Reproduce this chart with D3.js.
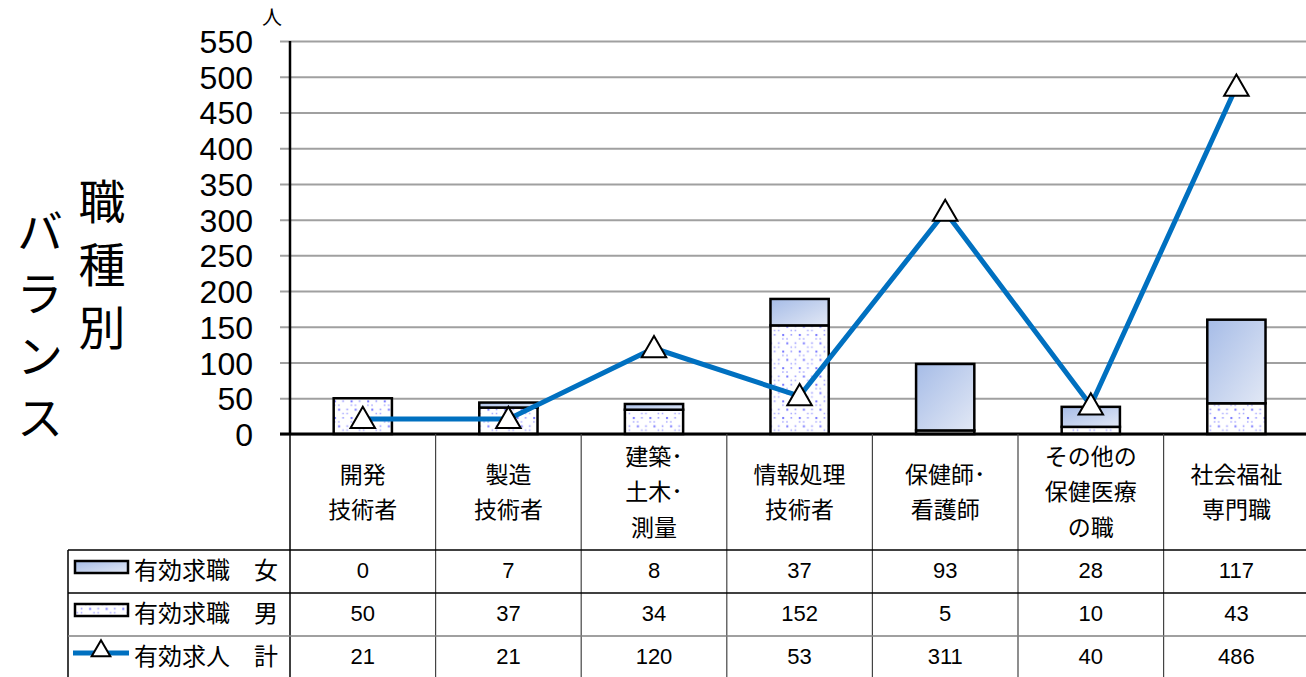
<html>
<head>
<meta charset="utf-8">
<style>
  body { margin: 0; background: #fff; }
  svg { display: block; }
  text { font-family: "Noto Sans CJK JP", "Noto Sans", sans-serif; fill: #000; }
  .num { font-family: "Liberation Sans", Arial, sans-serif; }
  .vtitle { writing-mode: vertical-rl; text-orientation: upright; }
</style>
<script src="https://d3js.org/d3.v7.min.js"></script>
</head>
<body>
<svg id="chart"></svg>
<script>
// DATA
let categories = [
  ["開発", "技術者"],
  ["製造", "技術者"],
  ["建築･", "土木･", "測量"],
  ["情報処理", "技術者"],
  ["保健師･", "看護師"],
  ["その他の", "保健医療", "の職"],
  ["社会福祉", "専門職"]
]
let female = [0, 7, 8, 37, 93, 28, 117]   // 有効求職 女
let male = [50, 37, 34, 152, 5, 10, 43]   // 有効求職 男
let total = [21, 21, 120, 53, 311, 40, 486] // 有効求人 計
let yTicks = [0, 50, 100, 150, 200, 250, 300, 350, 400, 450, 500, 550]
let seriesNames = ["有効求職　女", "有効求職　男", "有効求人　計"]

let width = 1306, height = 677
let svg = d3.select("#chart").attr("width", width).attr("height", height)

// defs: gradient + dot pattern
let defs = svg.append("defs")
let grad = defs.append("linearGradient").attr("id", "gradF")
  .attr("x1", 0).attr("y1", 0).attr("x2", 1).attr("y2", 1)
grad.append("stop").attr("offset", "0%").attr("stop-color", "#a6bce7")
grad.append("stop").attr("offset", "100%").attr("stop-color", "#e2e8f5")

let p = 16.6
let pat = defs.append("pattern").attr("id", "dotsM")
  .attr("patternUnits", "userSpaceOnUse").attr("width", p).attr("height", p)
pat.append("rect").attr("width", p).attr("height", p).attr("fill", "#fff")
let dots = [[2, 2, 2, "#7878ff"], [10.3, 2, 1.6, "#9a9aff"], [6.1, 10.3, 2, "#7878ff"],
  [14.4, 10.3, 1.6, "#9a9aff"], [2, 6.1, 1.5, "#a8a8ff"], [10.3, 14.4, 1.5, "#a8a8ff"],
  [6.1, 6.1, 1.5, "#a8a8ff"], [14.4, 14.4, 1.5, "#a8a8ff"]]
dots.forEach(d => pat.append("rect").attr("x", d[0]).attr("y", d[1])
  .attr("width", d[2]).attr("height", d[2]).attr("fill", d[3]))

// SCALES
let plotLeft = 290, plotTop = 41, plotBottom = 434, colW = 145.6
let x = d3.scaleBand()
  .domain(d3.range(categories.length))
  .range([plotLeft, plotLeft + colW * categories.length])
  .padding(0)
let y = d3.scaleLinear().domain([0, 550]).range([plotBottom, plotTop])
let barW = x.bandwidth() * 0.4
let cx = i => x(i) + x.bandwidth() / 2

// GRID + Y AXIS
let yAxis = d3.axisLeft(y).tickValues(yTicks)
  .tickSize(-(width - plotLeft + 10)).tickPadding(37).tickFormat(d3.format("d"))
let gy = svg.append("g").attr("transform", `translate(${plotLeft},0)`).call(yAxis)
gy.select(".domain").remove()
gy.selectAll(".tick line").attr("stroke", "#a0a0a0").attr("stroke-width", 2)
  .attr("x1", -10).attr("x2", width - plotLeft + 20)
gy.selectAll(".tick text").attr("class", "num").style("font-size", "32px")
  .style("font-family", "'Liberation Sans', Arial, sans-serif").attr("dy", "0.36em")

svg.append("text").attr("x", 272).attr("y", 25).attr("text-anchor", "middle")
  .style("font-size", "20px").text("人")

// BARS (male bottom, female stacked on top)
let barsG = svg.append("g")
barsG.selectAll(".barM").data(male).enter().append("rect")
  .attr("class", "barM")
  .attr("x", (d, i) => x(i) + (x.bandwidth() - barW) / 2)
  .attr("y", d => y(d)).attr("width", barW).attr("height", d => y(0) - y(d))
  .attr("fill", "url(#dotsM)").attr("stroke", "#000").attr("stroke-width", 2.5)
barsG.selectAll(".barF").data(female.map((v, i) => ({ v, i })).filter(d => d.v > 0))
  .enter().append("rect")
  .attr("class", "barF")
  .attr("x", d => x(d.i) + (x.bandwidth() - barW) / 2)
  .attr("y", d => y(male[d.i] + d.v)).attr("width", barW)
  .attr("height", d => y(male[d.i]) - y(male[d.i] + d.v))
  .attr("fill", "url(#gradF)").attr("stroke", "#000").attr("stroke-width", 2.5)

// AXIS LINES
svg.append("line").attr("x1", plotLeft).attr("x2", plotLeft).attr("y1", plotTop).attr("y2", plotBottom)
  .attr("stroke", "#000").attr("stroke-width", 2.5)
svg.append("line").attr("x1", plotLeft - 10).attr("x2", width).attr("y1", plotBottom).attr("y2", plotBottom)
  .attr("stroke", "#000").attr("stroke-width", 3)

// LINE SERIES
let line = d3.line().x((d, i) => cx(i)).y(d => y(d))
svg.append("path").datum(total).attr("d", line)
  .attr("fill", "none").attr("stroke", "#0070c0").attr("stroke-width", 5)
let tri = d3.symbol().type(d3.symbolTriangle).size(260)
svg.selectAll(".marker").data(total).enter().append("path")
  .attr("d", tri).attr("transform", (d, i) => `translate(${cx(i)},${y(d) + 2})`)
  .attr("fill", "#fff").attr("stroke", "#000").attr("stroke-width", 2)

// TABLE
let rowTops = [550, 593, 636, 679]
let tbl = svg.append("g")
d3.range(categories.length + 1).forEach(i => {
  let xx = plotLeft + colW * i
  tbl.append("line").attr("x1", xx).attr("x2", xx).attr("y1", plotBottom).attr("y2", height)
    .attr("stroke", i === 0 ? "#000" : "#444").attr("stroke-width", i === 0 ? 1.5 : 1.2)
})
tbl.append("line").attr("x1", 68).attr("x2", 68).attr("y1", rowTops[0]).attr("y2", height)
  .attr("stroke", "#000").attr("stroke-width", 1.5)
rowTops.slice(0, 3).forEach((ry, k) => {
  tbl.append("line").attr("x1", 68).attr("x2", width).attr("y1", ry).attr("y2", ry)
    .attr("stroke", k === 2 ? "#808080" : "#000").attr("stroke-width", 1.5)
})

// category labels
categories.forEach((lines, i) => {
  let t = tbl.append("text").attr("text-anchor", "middle").style("font-size", "23px")
  let lh = 35.5
  let start = 492 - (lines.length - 1) * lh / 2
  lines.forEach((s, k) => {
    t.append("tspan").attr("x", cx(i)).attr("y", start + k * lh).attr("dy", "0.36em").text(s)
  })
})

// values + series names
;[female, male, total].forEach((arr, r) => {
  let mid = (rowTops[r] + rowTops[r + 1]) / 2
  arr.forEach((v, i) => {
    tbl.append("text").attr("class", "num").attr("x", cx(i)).attr("y", mid - 1).attr("dy", "0.36em")
      .attr("text-anchor", "middle").style("font-size", "22px").text(v)
  })
  tbl.append("text").attr("x", 134).attr("y", mid - 1).attr("dy", "0.36em")
    .style("font-size", "24px").text(seriesNames[r])
})

// legend keys
let lg = svg.append("g")
lg.append("rect").attr("x", 75).attr("y", 561).attr("width", 53).attr("height", 12)
  .attr("fill", "url(#gradF)").attr("stroke", "#000").attr("stroke-width", 2.5)
lg.append("rect").attr("x", 75).attr("y", 604).attr("width", 53).attr("height", 12)
  .attr("fill", "url(#dotsM)").attr("stroke", "#000").attr("stroke-width", 2.5)
lg.append("line").attr("x1", 73).attr("x2", 129).attr("y1", 653).attr("y2", 653)
  .attr("stroke", "#0070c0").attr("stroke-width", 5)
lg.append("path").attr("d", d3.symbol().type(d3.symbolTriangle).size(150))
  .attr("transform", "translate(101,651)").attr("fill", "#fff").attr("stroke", "#000").attr("stroke-width", 2)

// TITLE (vertical)
svg.append("text").attr("class", "vtitle").attr("x", 102).attr("y", 178)
  .style("font-size", "47px").style("letter-spacing", "16px").text("職種別")
svg.append("text").attr("class", "vtitle").attr("x", 40).attr("y", 208)
  .style("font-size", "47px").style("letter-spacing", "15px").text("バランス")
</script>
</body>
</html>
